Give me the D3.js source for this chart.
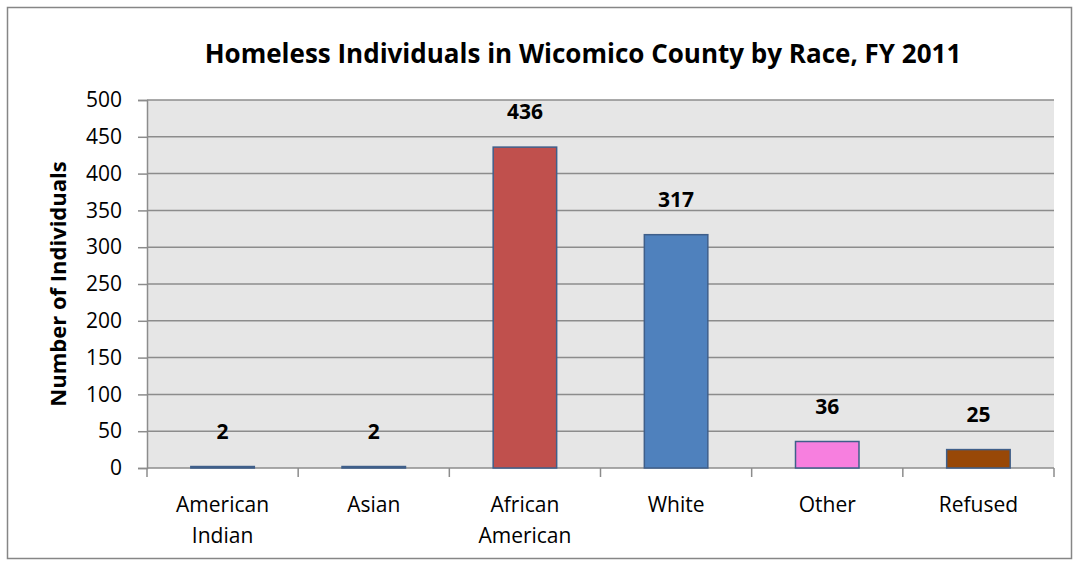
<!DOCTYPE html>
<html>
<head>
<meta charset="utf-8">
<script src="https://cdn.jsdelivr.net/npm/d3@7"></script>
<style>
  body { margin: 0; background: #fff; }
  text { font-family: "Open Sans", Lato, "Liberation Sans", sans-serif; }
</style>
</head>
<body>
<div id="chart"></div>
<script>
// chart data
const categories = [['American', 'Indian'], ['Asian'], ['African', 'American'], ['White'], ['Other'], ['Refused']];
const values = [2, 2, 436, 317, 36, 25];
const barColors = ['#4f81bd', '#4f81bd', '#c0504d', '#4f81bd', '#f77fdf', '#984807'];
const yTicks = [0, 50, 100, 150, 200, 250, 300, 350, 400, 450, 500];

const W = 1078, H = 565;
const margin = { top: 100, right: 24, bottom: 97, left: 147 };
const width = W - margin.left - margin.right,
  height = H - margin.top - margin.bottom;

const svg = d3.select('#chart')
  .append('svg')
  .attr('width', W)
  .attr('height', H);

// outer frame
svg.append('rect')
  .attr('x', 7.5).attr('y', 7.5)
  .attr('width', 1064).attr('height', 551)
  .attr('fill', '#fff')
  .attr('stroke', '#868686')
  .attr('stroke-width', 1.5);

const g = svg.append('g')
  .attr('transform', `translate(${margin.left},${margin.top})`);

const x = d3.scaleBand()
  .domain(d3.range(categories.length))
  .range([0, width])
  .paddingInner(0.58)
  .paddingOuter(0.29);

const xb = d3.scaleBand()
  .domain(d3.range(categories.length))
  .range([0, width]);

const y = d3.scaleLinear()
  .domain([0, 500])
  .range([height, 0]);

// plot background
g.append('rect')
  .attr('width', width)
  .attr('height', height)
  .attr('fill', '#e6e6e6');

// gridlines
g.append('g')
  .selectAll('line')
  .data(yTicks.slice(1))
  .join('line')
  .attr('x1', 0).attr('x2', width)
  .attr('y1', d => y(d)).attr('y2', d => y(d))
  .attr('stroke', '#8c8c8c')
  .attr('stroke-width', 1.5);

// y axis
const yAxis = g.append('g')
  .call(d3.axisLeft(y).tickValues(yTicks).tickSize(9).tickPadding(16));
yAxis.select('.domain').attr('stroke', '#8c8c8c').attr('stroke-width', 1.5);
yAxis.selectAll('.tick line').attr('stroke', '#8c8c8c').attr('stroke-width', 1.5);
yAxis.selectAll('.tick text')
  .style('font-size', '21px')
  .attr('fill', '#000');

// x axis line and category ticks
g.append('line')
  .attr('x1', 0).attr('x2', width)
  .attr('y1', height).attr('y2', height)
  .attr('stroke', '#8c8c8c').attr('stroke-width', 1.5);
g.append('g')
  .selectAll('line')
  .data(d3.range(categories.length + 1))
  .join('line')
  .attr('x1', d => d * xb.bandwidth()).attr('x2', d => d * xb.bandwidth())
  .attr('y1', height).attr('y2', height + 9)
  .attr('stroke', '#8c8c8c').attr('stroke-width', 1.5);

// x category labels
g.append('g')
  .selectAll('text')
  .data(categories)
  .join('text')
  .attr('text-anchor', 'middle')
  .attr('transform', (d, i) => `translate(${xb(i) + xb.bandwidth() / 2},${height + 44})`)
  .style('font-size', '21px')
  .selectAll('tspan')
  .data(d => d)
  .join('tspan')
  .attr('x', 0)
  .attr('dy', (d, i) => i === 0 ? 0 : 31)
  .text(d => d);

// bars
g.append('g')
  .selectAll('rect')
  .data(values)
  .join('rect')
  .attr('x', (d, i) => x(i))
  .attr('y', d => y(d))
  .attr('width', x.bandwidth())
  .attr('height', d => height - y(d))
  .attr('fill', (d, i) => barColors[i])
  .attr('stroke', '#3f5f8a')
  .attr('stroke-width', 1.5);

// value labels
g.append('g')
  .selectAll('text')
  .data(values)
  .join('text')
  .attr('x', (d, i) => x(i) + x.bandwidth() / 2)
  .attr('y', d => y(d) - 28)
  .attr('text-anchor', 'middle')
  .style('font-size', '21px')
  .style('font-weight', 'bold')
  .text(d => d);

// title
svg.append('text')
  .attr('x', 583)
  .attr('y', 63)
  .attr('text-anchor', 'middle')
  .style('font-size', '26px')
  .style('font-weight', 'bold')
  .text('Homeless Individuals in Wicomico County by Race, FY 2011');

// y axis title
svg.append('text')
  .attr('transform', `translate(66,${margin.top + height / 2}) rotate(-90)`)
  .attr('text-anchor', 'middle')
  .style('font-size', '22px')
  .style('font-weight', 'bold')
  .text('Number of Individuals');
</script>
</body>
</html>
